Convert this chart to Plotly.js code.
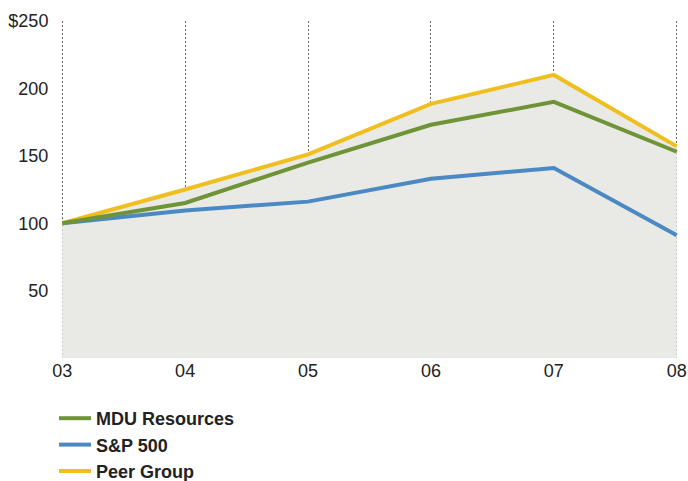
<!DOCTYPE html>
<html>
<head>
<meta charset="utf-8">
<script src="https://cdn.plot.ly/plotly-3.0.1.min.js"></script>
<style>html,body{margin:0;padding:0;background:#fff;}#chart{width:688px;height:481px;}</style>
</head>
<body>
<div id="chart"></div>
<script>
var years = ['03', '04', '05', '06', '07', '08'];
var mdu = [100, 115, 145, 173, 190, 153];
var sp500 = [100, 109.5, 116, 133, 141, 91];
var peer = [100, 125, 151, 188.5, 210, 157];
var yTickVals = [50, 100, 150, 200, 250];
var yTickText = ['50', '100', '150', '200', '$250'];

var xIdx = years.map(function (_, i) { return i; });
var font = 'Liberation Sans, Arial, Helvetica, sans-serif';

var traces = [
  { x: xIdx, y: peer, type: 'scatter', mode: 'lines', fill: 'tozeroy',
    fillcolor: '#e9e9e5', line: { width: 0, color: 'rgba(0,0,0,0)' },
    showlegend: false, hoverinfo: 'skip' },
  { x: xIdx, y: sp500, name: 'S&P 500', type: 'scatter', mode: 'lines',
    line: { color: '#4a89c4', width: 4 }, legendrank: 2 },
  { x: xIdx, y: peer, name: 'Peer Group', type: 'scatter', mode: 'lines',
    line: { color: '#efbf1f', width: 4 }, legendrank: 3 },
  { x: xIdx, y: mdu, name: 'MDU Resources', type: 'scatter', mode: 'lines',
    line: { color: '#6f9437', width: 4 }, legendrank: 1 }
];

var layout = {
  width: 688, height: 481,
  margin: { l: 61, r: 10, t: 21, b: 122.5, autoexpand: false },
  paper_bgcolor: '#ffffff', plot_bgcolor: '#ffffff',
  font: { family: font, size: 18, color: '#222222' },
  xaxis: {
    range: [-0.01, 5.01], tickvals: xIdx, ticktext: years,
    showgrid: true, gridcolor: '#6a6a6a', gridwidth: 1, griddash: '2px,2px',
    zeroline: false, showline: false, ticks: '',
    tickfont: { family: font, size: 18, color: '#222' },
    fixedrange: true
  },
  yaxis: {
    range: [0, 250], tickvals: yTickVals, ticktext: yTickText,
    showgrid: false, zeroline: false, showline: false,
    ticks: 'outside', ticklen: 8, tickcolor: 'rgba(0,0,0,0)',
    tickfont: { family: font, size: 18, color: '#222' }, fixedrange: true
  },
  showlegend: true,
  legend: {
    orientation: 'v', xref: 'container', yref: 'container',
    x: 54 / 688, y: 1 - 400 / 481, xanchor: 'left', yanchor: 'top',
    font: { family: font, size: 18, color: '#222', weight: 'bold' },
    bgcolor: 'rgba(0,0,0,0)', itemwidth: 32, tracegroupgap: 0
  }
};

Plotly.newPlot('chart', traces, layout, { displayModeBar: false, staticPlot: true });
</script>
</body>
</html>
